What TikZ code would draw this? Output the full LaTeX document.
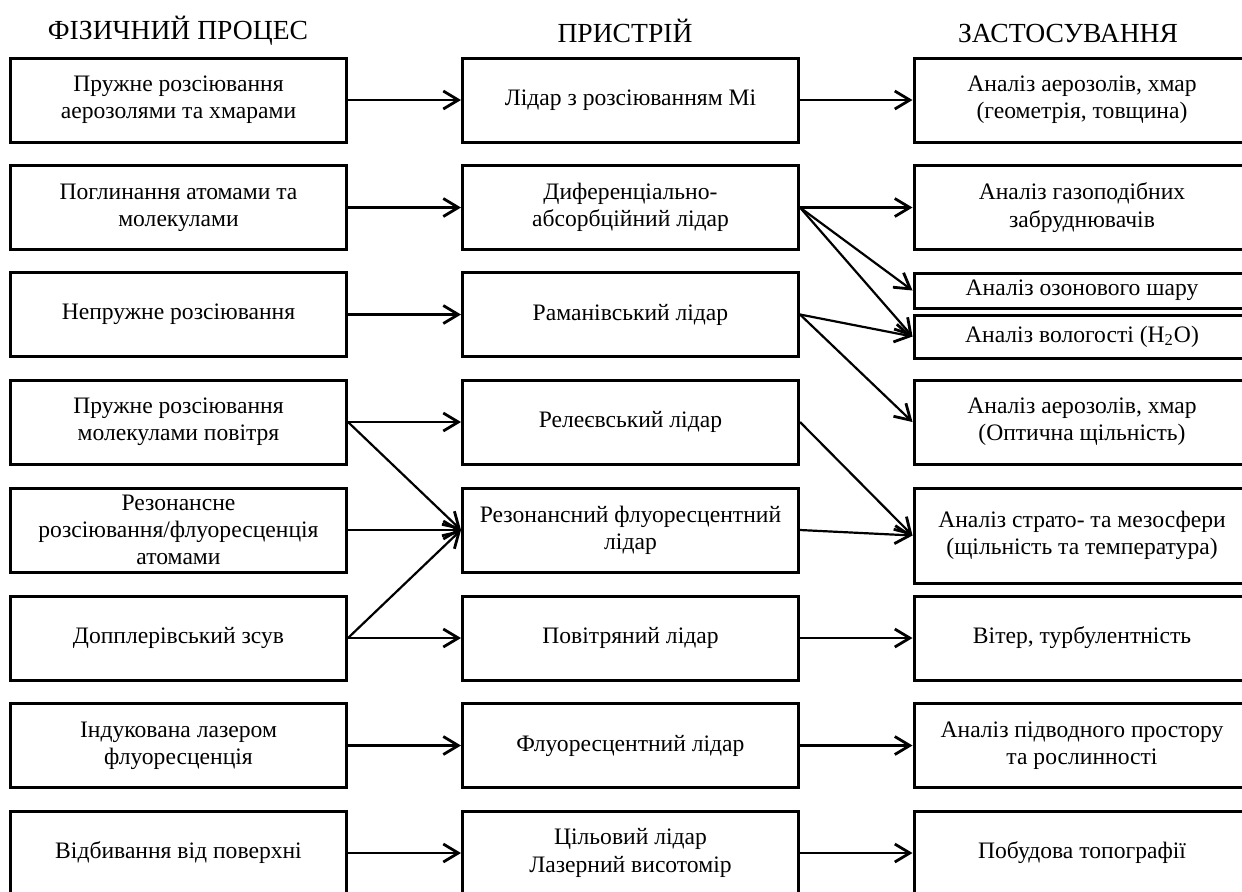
\documentclass[tikz,border=0pt]{standalone}
\usepackage{fontspec}
\setmainfont{Liberation Serif}
\usetikzlibrary{arrows.meta}
\tikzset{every picture/.style={line width=0.5pt}}

\begin{document}
\begin{tikzpicture}
    [
    x=0.5pt, y=-0.5pt,
    arrow/.style={
        line width=1.1pt,
        -{Straight Barb[length=7.5pt,width=9pt,line width=1.4pt]}
    },
    box/.style={
        draw,
        rectangle,
        line width=1.5pt,
        minimum width=168pt,
        minimum height=42pt,
        inner sep=0pt,
        font=\fontsize{11.8}{13.6}\selectfont,
        align=center % align is required for multi-line text
    },
    slimbox/.style={
        box,
        minimum height=#1
    },
    colhead/.style={
        font=\fontsize{13.8}{16}\selectfont
    },
    ]

    \useasboundingbox (0,0) rectangle (1242,891);

    \draw (178,31) node[colhead] (hproc) {ФІЗИЧНИЙ ПРОЦЕС};
    \draw (625,31) node[colhead] (hdev) {ПРИСТРІЙ};
    \draw (1068,33) node[colhead] (happ) {ЗАСТОСУВАННЯ};

    % physical processes
    \draw (178.5,100) node[box] (elastic) {Пружне розсіювання \\ аерозолями та хмарами};
    \draw (178.5,207.5) node[box] (absorb) {Поглинання атомами та \\ молекулами};
    \draw (178.5,314.5) node[box] (inelastic) {Непружне розсіювання};
    \draw (178.5,422) node[box] (molscat) {Пружне розсіювання \\ молекулами повітря};
    \draw (178.5,530) node[box] (resscat) {Резонансне \\ розсіювання/флуоресценція \\ атомами};
    \draw (178.5,638) node[box] (doppler) {Допплерівський зсув};
    \draw (178.5,745.5) node[box] (lif) {Індукована лазером \\ флуоресценція};
    \draw (178.5,853) node[box] (reflect) {Відбивання від поверхні};

    % devices
    \draw (630.5,100) node[box] (mie) {Лідар з розсіюванням Мі};
    \draw (630.5,207.5) node[box] (dial) {Диференціально- \\ абсорбційний лідар};
    \draw (630.5,314.5) node[box] (raman) {Раманівський лідар};
    \draw (630.5,422) node[box] (rayleigh) {Релеєвський лідар};
    \draw (630.5,530) node[box] (resfl) {Резонансний флуоресцентний \\ лідар};
    \draw (630.5,638) node[box] (windlid) {Повітряний лідар};
    \draw (630.5,745.5) node[box] (fluor) {Флуоресцентний лідар};
    \draw (630.5,853) node[box] (target) {Цільовий лідар \\ Лазерний висотомір};

    % applications
    \draw (1082,100) node[box] (aerogeo) {Аналіз аерозолів, хмар \\ (геометрія, товщина)};
    \draw (1082,207.5) node[box] (gases) {Аналіз газоподібних \\ забруднювачів};
    \draw (1082,290.5) node[slimbox=17.5pt] (ozone) {Аналіз озонового шару};
    \draw (1082,336.5) node[slimbox=21.5pt] (humid) {Аналіз вологості (H\textsubscript{2}O)};
    \draw (1082,422) node[box] (aeroopt) {Аналіз аерозолів, хмар \\ (Оптична щільність)};
    \draw (1082,535.5) node[slimbox=47.5pt] (strato) {Аналіз страто- та мезосфери \\ (щільність та температура)};
    \draw (1082,638) node[box] (turb) {Вітер, турбулентність};
    \draw (1082,745.5) node[box] (water) {Аналіз підводного простору \\ та рослинності};
    \draw (1082,853) node[box] (topo) {Побудова топографії};

    \draw [arrow] (elastic) -- (mie);
    \draw [arrow] (absorb) -- (dial);
    \draw [arrow] (inelastic) -- (raman);
    \draw [arrow] (molscat) -- (rayleigh);
    \draw [arrow] (molscat.east) -- (resfl.west);
    \draw [arrow] (resscat) -- (resfl);
    \draw [arrow] (doppler) -- (windlid);
    \draw [arrow] (doppler.east) -- (resfl.west);
    \draw [arrow] (lif) -- (fluor);
    \draw [arrow] (reflect) -- (target);

    \draw [arrow] (mie) -- (aerogeo);
    \draw [arrow] (dial) -- (gases);
    \draw [arrow] (dial.east) -- (ozone.west);
    \draw [arrow] (dial.east) -- (humid.west);
    \draw [arrow] (raman.east) -- (humid.west);
    \draw [arrow] (raman.east) -- (aeroopt.west);
    \draw [arrow] (rayleigh.east) -- (strato.west);
    \draw [arrow] (resfl.east) -- (strato.west);
    \draw [arrow] (windlid) -- (turb);
    \draw [arrow] (fluor) -- (water);
    \draw [arrow] (target) -- (topo);

\end{tikzpicture}
\end{document}
